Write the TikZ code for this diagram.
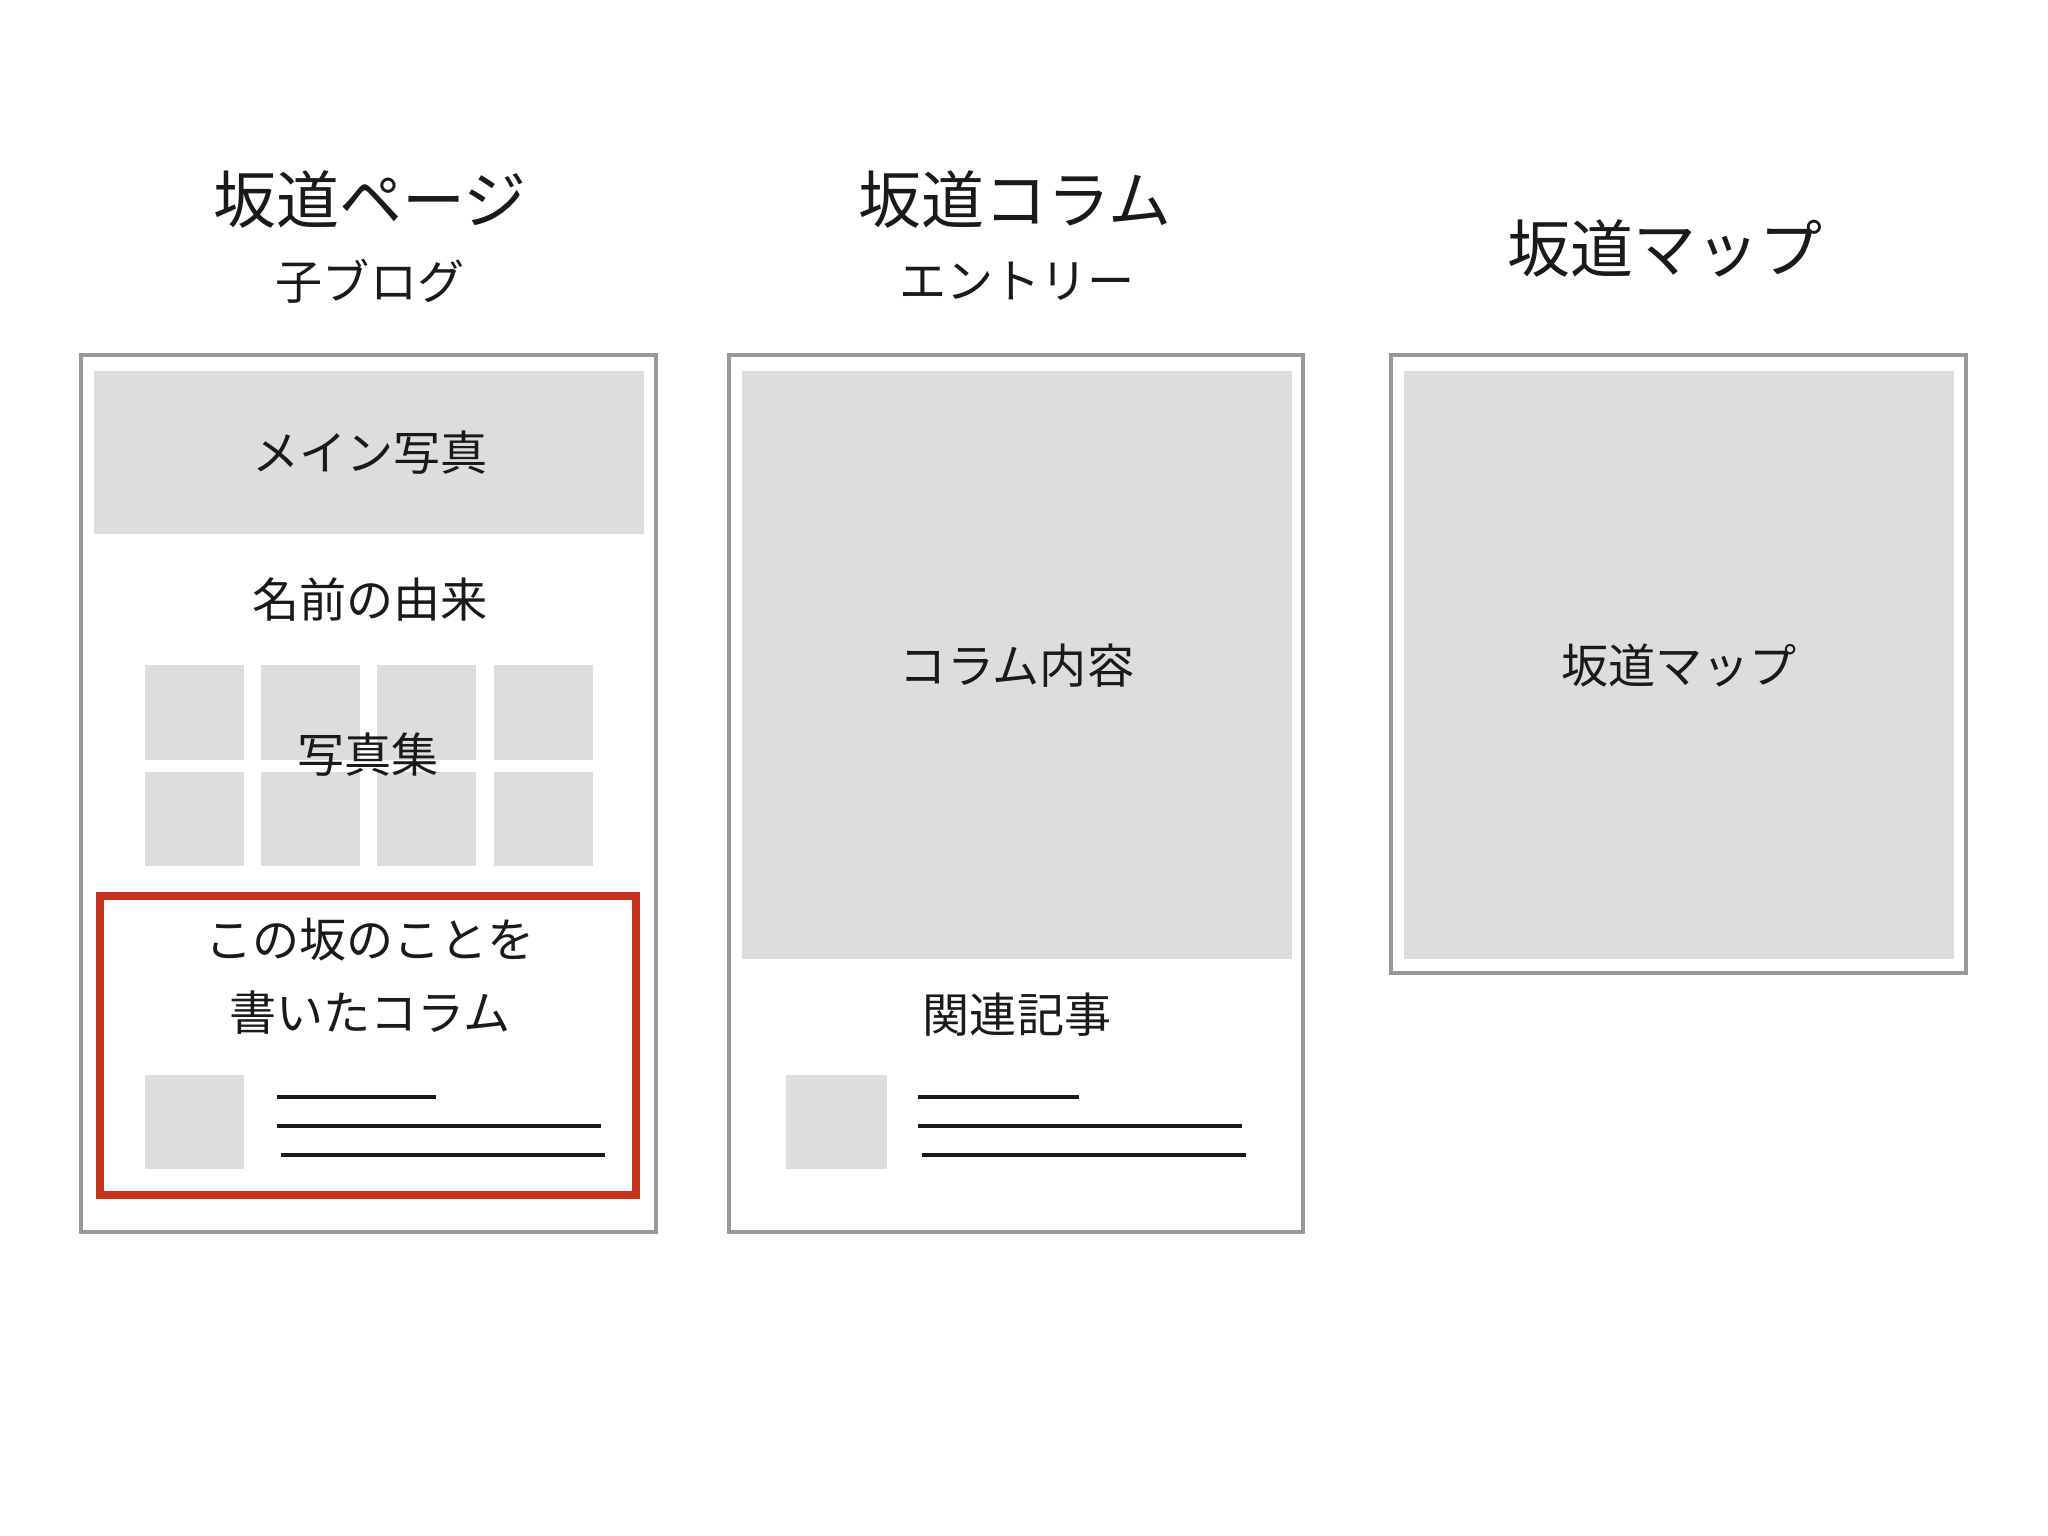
\documentclass[tikz,border=0pt]{standalone}
\usepackage{fontspec}
\setmainfont{Noto Sans CJK JP}
\definecolor{ph}{HTML}{DCDDDF}
\definecolor{frame}{HTML}{999999}
\definecolor{hl}{HTML}{C4341C}
\definecolor{ink}{HTML}{1A1A1A}
\tikzset{
  pagebox/.style={draw=frame, line width=0.035cm, fill=white},
  phbox/.style={fill=ph, draw=none},
  hlbox/.style={draw=hl, line width=0.075cm},
  textline/.style={draw=ink, line width=0.042cm},
  title/.style={font=\fontsize{17.9}{20}\selectfont, text=ink, inner sep=0pt},
  sub/.style={font=\fontsize{13.4}{16}\selectfont, text=ink, inner sep=0pt},
  lbl/.style={font=\fontsize{13.4}{16}\selectfont, text=ink, inner sep=0pt}
}
\begin{document}
\begin{tikzpicture}[x=0.01cm, y=-0.01cm]
\useasboundingbox (0,0) rectangle (2048,1536);
\fill[white] (0,0) rectangle (2048,1536);

% titles
\node[title] (t1) at (370,199) {坂道ページ};
\node[sub] (s1) at (370,281) {子ブログ};
\node[title] (t2) at (1015,199) {坂道コラム};
\node[sub] (s2) at (1017,281) {エントリー};
\node[title] (t3) at (1665,248) {坂道マップ};

% page 1
\draw[pagebox] (81,355) rectangle (656,1232);
\fill[phbox] (94,371) rectangle (644,534);
\node[lbl] (main) at (370,453) {メイン写真};
\node[lbl] (origin) at (370,600) {名前の由来};
\foreach \x in {145,261,377,494} {
  \fill[phbox] (\x,665) rectangle ++(99,95);
  \fill[phbox] (\x,772) rectangle ++(99,94);
}
\node[lbl] (gallery) at (368,755) {写真集};
\draw[hlbox] (100,896) rectangle (636,1195);
\node[lbl] (col1) at (370,940) {この坂のことを};
\node[lbl] (col2) at (370,1013) {書いたコラム};
\fill[phbox] (145,1075) rectangle (244,1169);
\draw[textline] (277,1097) -- (436,1097);
\draw[textline] (277,1126) -- (601,1126);
\draw[textline] (281,1155) -- (605,1155);

% page 2
\draw[pagebox] (729,355) rectangle (1303,1232);
\fill[phbox] (742,371) rectangle (1292,959);
\node[lbl] (content) at (1017,666) {コラム内容};
\node[lbl] (related) at (1017,1015) {関連記事};
\fill[phbox] (786,1075) rectangle (887,1169);
\draw[textline] (918,1097) -- (1079,1097);
\draw[textline] (918,1126) -- (1242,1126);
\draw[textline] (922,1155) -- (1246,1155);

% page 3
\draw[pagebox] (1391,355) rectangle (1966,973);
\fill[phbox] (1404,371) rectangle (1954,959);
\node[lbl] (map) at (1679,666) {坂道マップ};
\end{tikzpicture}
\end{document}
